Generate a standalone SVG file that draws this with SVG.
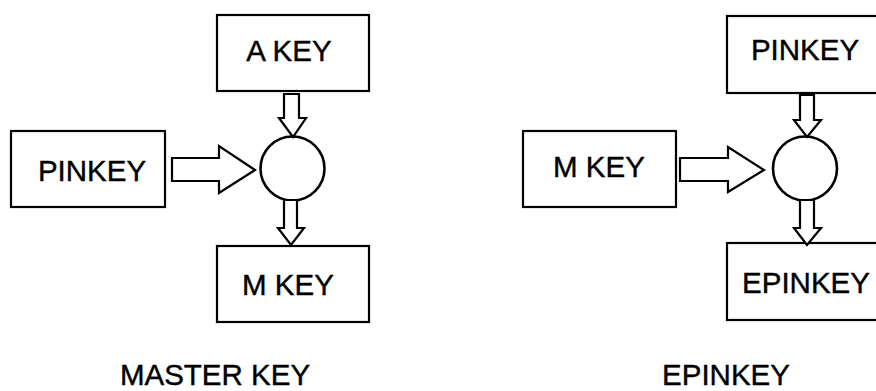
<svg xmlns="http://www.w3.org/2000/svg" width="876" height="391" viewBox="0 0 876 391">
  <style>
    .box { fill: #fff; stroke: #000; stroke-width: 2.2; }
    .join { fill: #fff; stroke: #000; stroke-width: 2.6; }
    .arrow { fill: #fff; stroke: #000; stroke-width: 2.2; stroke-linejoin: miter; }
    .lbl { font-family: "Liberation Sans", Arial, sans-serif; font-size: 29.5px; fill: #000; stroke: #000; stroke-width: 0.4; text-anchor: middle; }
  </style>
  <rect width="876" height="391" fill="#fff"/>

  <!-- MASTER KEY derivation -->
  <g id="akey">
    <rect class="box" x="217" y="15" width="152" height="76"/>
    <text class="lbl" x="289" y="61">A KEY</text>
  </g>
  <g id="pinkey-left">
    <rect class="box" x="11" y="131" width="154" height="76"/>
    <text class="lbl" x="92" y="181">PINKEY</text>
  </g>
  <g id="combine-left">
    <circle class="join" cx="292.5" cy="168.5" r="32"/>
  </g>
  <g id="mkey-left">
    <rect class="box" x="217" y="246" width="152" height="76"/>
    <text class="lbl" x="288" y="295">M KEY</text>
  </g>
  <g id="caption-left">
    <text class="lbl" x="215" y="385">MASTER KEY</text>
  </g>

  <!-- EPINKEY derivation -->
  <g id="pinkey-right">
    <rect class="box" x="727" y="16" width="152" height="77"/>
    <text class="lbl" x="805" y="60">PINKEY</text>
  </g>
  <g id="mkey-right">
    <rect class="box" x="523" y="131" width="153" height="76"/>
    <text class="lbl" x="599" y="177">M KEY</text>
  </g>
  <g id="combine-right">
    <circle class="join" cx="805" cy="168.5" r="32"/>
  </g>
  <g id="epinkey-box">
    <rect class="box" x="727" y="243" width="152" height="77"/>
    <text class="lbl" x="806" y="293">EPINKEY</text>
  </g>
  <g id="caption-right">
    <text class="lbl" x="726" y="385">EPINKEY</text>
  </g>

  <!-- hollow block arrows -->
  <g id="connectors">
    <polygon class="arrow" points="172,158 219,158 219,146 255,170 219,193 219,181 172,181"/>
    <polygon class="arrow" points="284,94 299,94 299,118 306,118 293,137 279,118 284,118"/>
    <polygon class="arrow" points="284,200 297,200 297,228 304,228 291,245 278,228 284,228"/>
    <polygon class="arrow" points="680,158 728,158 728,147 764,170 728,192 728,181 680,181"/>
    <polygon class="arrow" points="800,95 814,95 814,120 821,120 807,137 794,120 800,120"/>
    <polygon class="arrow" points="800,200 814,200 814,228 821,228 807,245 794,228 800,228"/>
  </g>
</svg>
